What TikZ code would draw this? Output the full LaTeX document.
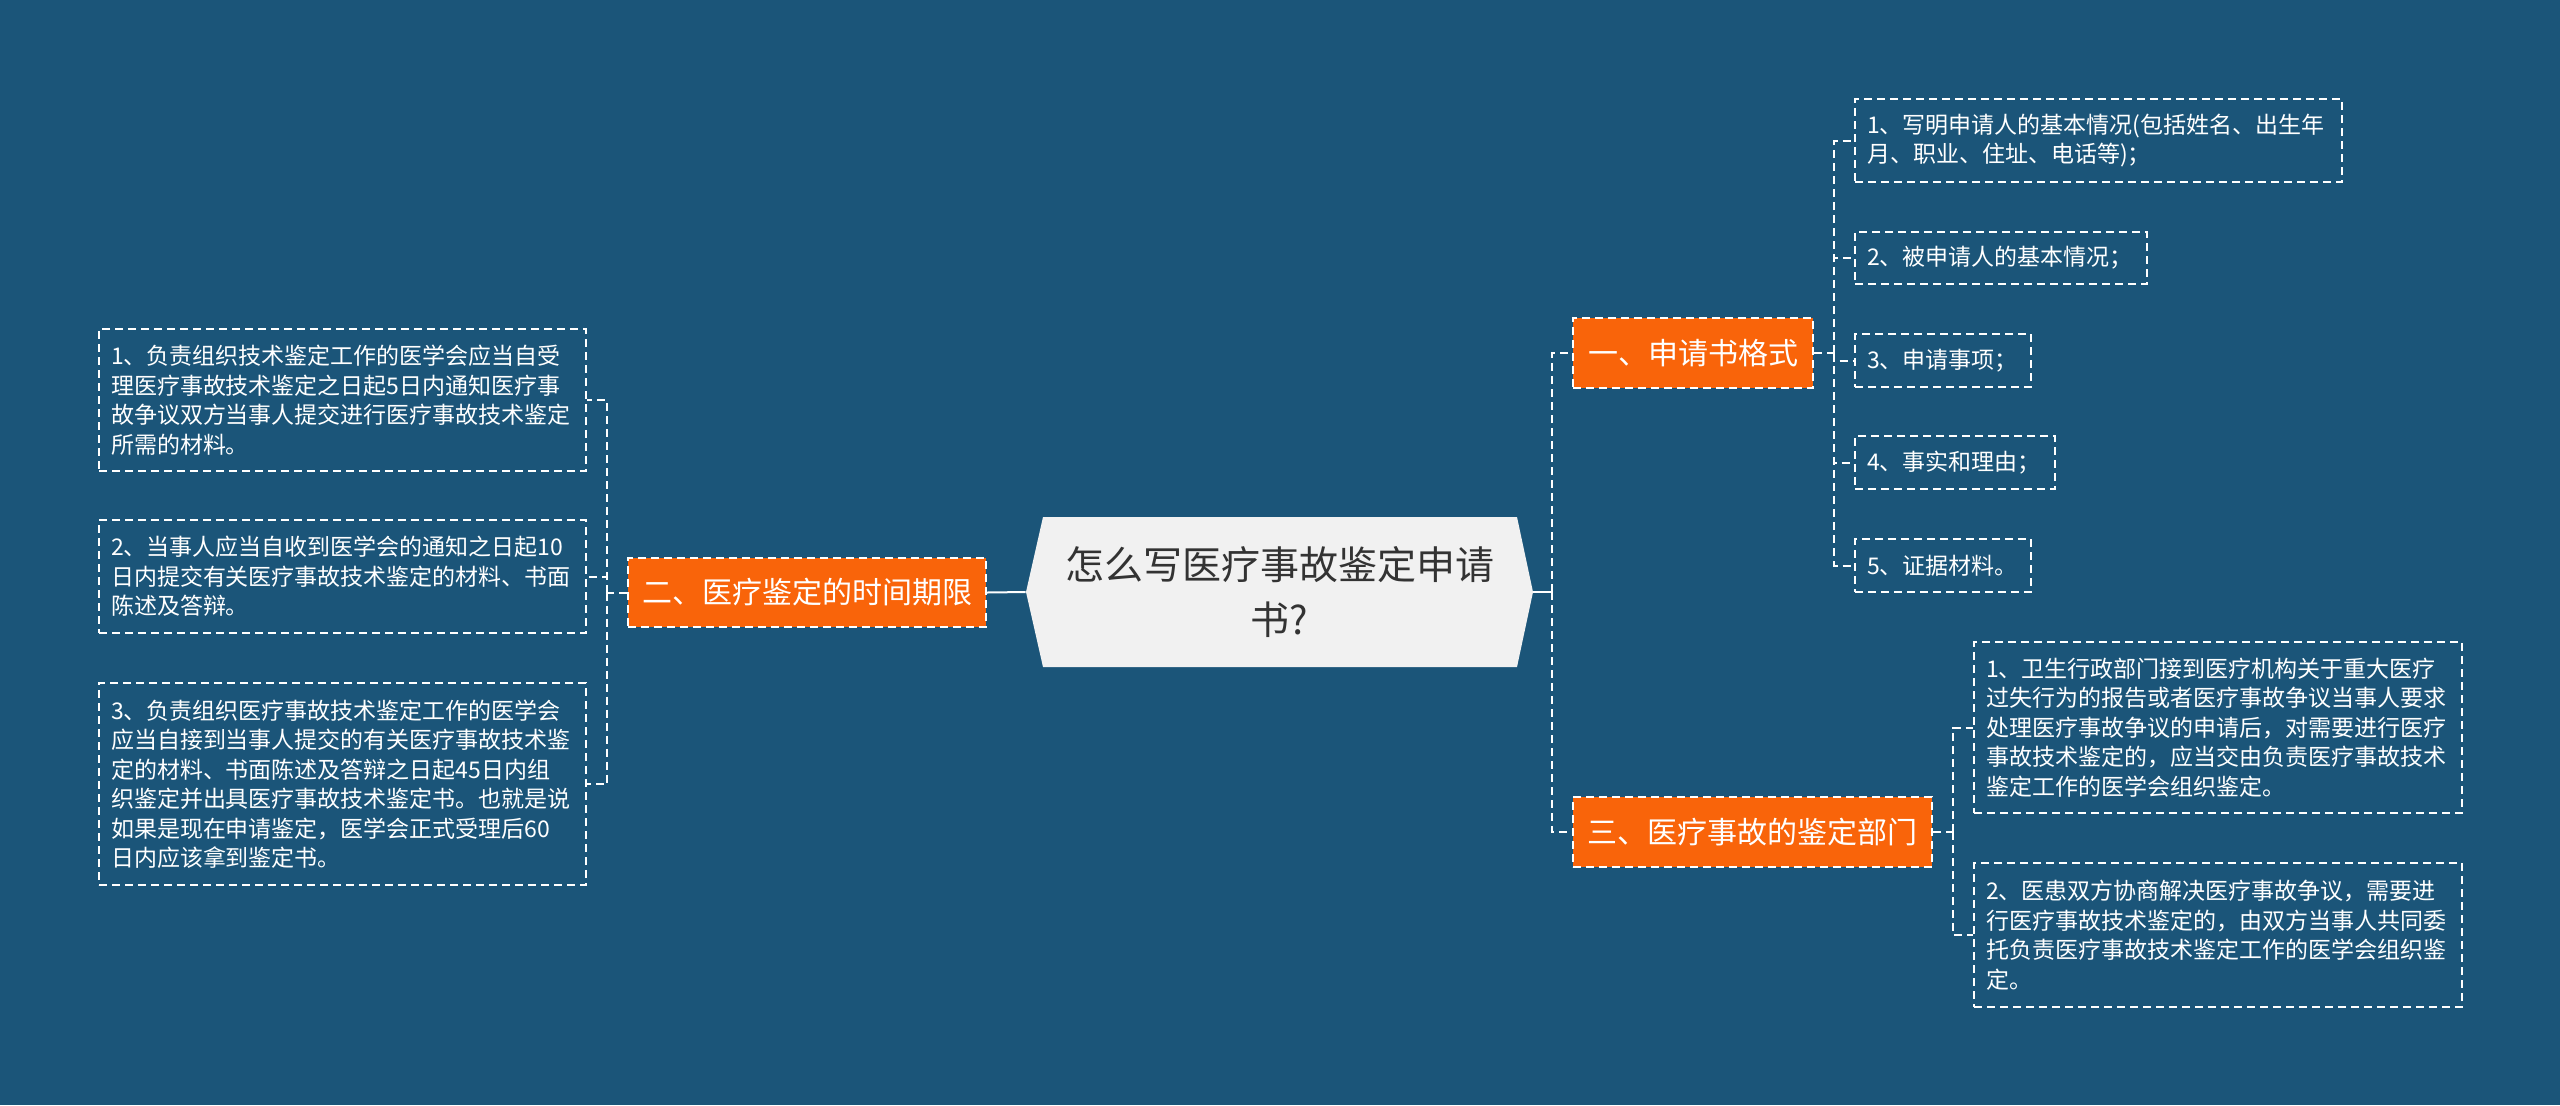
\documentclass[tikz,border=0pt]{standalone}
\usepackage{fontspec}
\newfontfamily\cjk{Noto Sans CJK SC}
\usepackage{tikz}
\usetikzlibrary{calc}

\definecolor{bgblue}{RGB}{27,85,121}
\definecolor{branchorange}{RGB}{249,100,10}
\definecolor{rootfill}{RGB}{241,241,241}
\definecolor{roottext}{RGB}{51,51,51}

\newcommand{\rootfont}{\cjk\fontsize{19.5}{27.5}\selectfont}
\newcommand{\branchfont}{\cjk\fontsize{15}{18}\selectfont}
\newcommand{\leaffont}{\cjk\fontsize{11.5}{14.75}\selectfont}

\tikzset{
  leafbox/.style={draw=white, dash pattern=on 4pt off 2.5pt, line width=1pt,
    text=white, font=\leaffont, align=left, inner xsep=6pt, inner ysep=0pt},
  branchbox/.style={draw=white, dash pattern=on 4pt off 2.5pt, line width=1pt,
    fill=branchorange, text=white, font=\branchfont, inner sep=0pt},
  trunk/.style={draw=white, dash pattern=on 4pt off 2.5pt, line width=1pt},
  link/.style={draw=white, line width=1pt}
}

\begin{document}
\begin{tikzpicture}[x=0.5pt,y=-0.5pt]

    % --- Background ---
    \fill[bgblue] (0,0) rectangle (2560,1105);
    \useasboundingbox (0,0) rectangle (2560,1105);

    % --- Root ---
    \fill[rootfill] (1026,592) -- (1043,517) -- (1517,517) -- (1533,592)
        -- (1517,667) -- (1043,667) -- cycle;
    \node[minimum width=253.5pt, minimum height=75pt, inner sep=0pt,
        align=center, font=\rootfont, text=roottext] (root) at (1279.5,592)
        {怎么写医疗事故鉴定申请\\书?};

    % --- Branches ---
    \node[branchbox, minimum width=120pt, minimum height=35pt] (n1) at (1693,353) {一、申请书格式};
    \node[branchbox, minimum width=179pt, minimum height=34.5pt] (n2) at (807,592.5) {二、医疗鉴定的时间期限};
    \node[branchbox, minimum width=179.5pt, minimum height=35pt] (n3) at (1752.5,832) {三、医疗事故的鉴定部门};

    % --- Leaves of branch one ---
    \node[leafbox, text width=231.5pt, minimum height=41.5pt] (r1) at (2098.5,140.5)
        {1、写明申请人的基本情况(包括姓名、出生年\\月、职业、住址、电话等)；};
    \node[leafbox, text width=134pt, minimum height=26pt] (r2) at (2001,258) {2、被申请人的基本情况；};
    \node[leafbox, text width=76pt, minimum height=26.5pt] (r3) at (1943,360.5) {3、申请事项；};
    \node[leafbox, text width=88pt, minimum height=26.5pt] (r4) at (1955,462.5) {4、事实和理由；};
    \node[leafbox, text width=76pt, minimum height=26.5pt] (r5) at (1943,565.5) {5、证据材料。};

    % --- Leaves of branch two ---
    \node[leafbox, text width=231.5pt, minimum height=71pt] (l1) at (342.5,400)
        {1、负责组织技术鉴定工作的医学会应当自受\\理医疗事故技术鉴定之日起5日内通知医疗事\\故争议双方当事人提交进行医疗事故技术鉴定\\所需的材料。};
    \node[leafbox, text width=231.5pt, minimum height=56.5pt] (l2) at (342.5,576.5)
        {2、当事人应当自收到医学会的通知之日起10\\日内提交有关医疗事故技术鉴定的材料、书面\\陈述及答辩。};
    \node[leafbox, text width=231.5pt, minimum height=101pt] (l3) at (342.5,784)
        {3、负责组织医疗事故技术鉴定工作的医学会\\应当自接到当事人提交的有关医疗事故技术鉴\\定的材料、书面陈述及答辩之日起45日内组\\织鉴定并出具医疗事故技术鉴定书。也就是说\\如果是现在申请鉴定，医学会正式受理后60\\日内应该拿到鉴定书。};

    % --- Leaves of branch three ---
    \node[leafbox, text width=232pt, minimum height=85.5pt] (a1) at (2218,727.5)
        {1、卫生行政部门接到医疗机构关于重大医疗\\过失行为的报告或者医疗事故争议当事人要求\\处理医疗事故争议的申请后，对需要进行医疗\\事故技术鉴定的，应当交由负责医疗事故技术\\鉴定工作的医学会组织鉴定。};
    \node[leafbox, text width=232pt, minimum height=72pt] (a2) at (2218,935)
        {2、医患双方协商解决医疗事故争议，需要进\\行医疗事故技术鉴定的，由双方当事人共同委\\托负责医疗事故技术鉴定工作的医学会组织鉴\\定。};

    % --- Trunks ---
    \coordinate (ltrunk) at (607,592.5);
    \coordinate (rtrunk) at (1552,592);
    \coordinate (onetrunk) at (1834,353);
    \coordinate (threetrunk) at (1953,832);

    % --- Connectors ---
    \draw[link] (root.west) -- (n2.east);
    \draw[link] (root.east) -- (rtrunk);
    \draw[trunk] (rtrunk) |- (n1.west);
    \draw[trunk] (rtrunk) |- (n3.west);

    \draw[trunk] (n2.west) -- (ltrunk);
    \draw[trunk] (ltrunk) |- (l1.east);
    \draw[trunk] (ltrunk) |- (l2.east);
    \draw[trunk] (ltrunk) |- (l3.east);

    \draw[trunk] (n1.east) -- (onetrunk);
    \draw[trunk] (onetrunk) |- (r1.west);
    \draw[trunk] (onetrunk) |- (r2.west);
    \draw[trunk] (onetrunk) |- (r3.west);
    \draw[trunk] (onetrunk) |- (r4.west);
    \draw[trunk] (onetrunk) |- (r5.west);

    \draw[trunk] (n3.east) -- (threetrunk);
    \draw[trunk] (threetrunk) |- (a1.west);
    \draw[trunk] (threetrunk) |- (a2.west);

\end{tikzpicture}
\end{document}
